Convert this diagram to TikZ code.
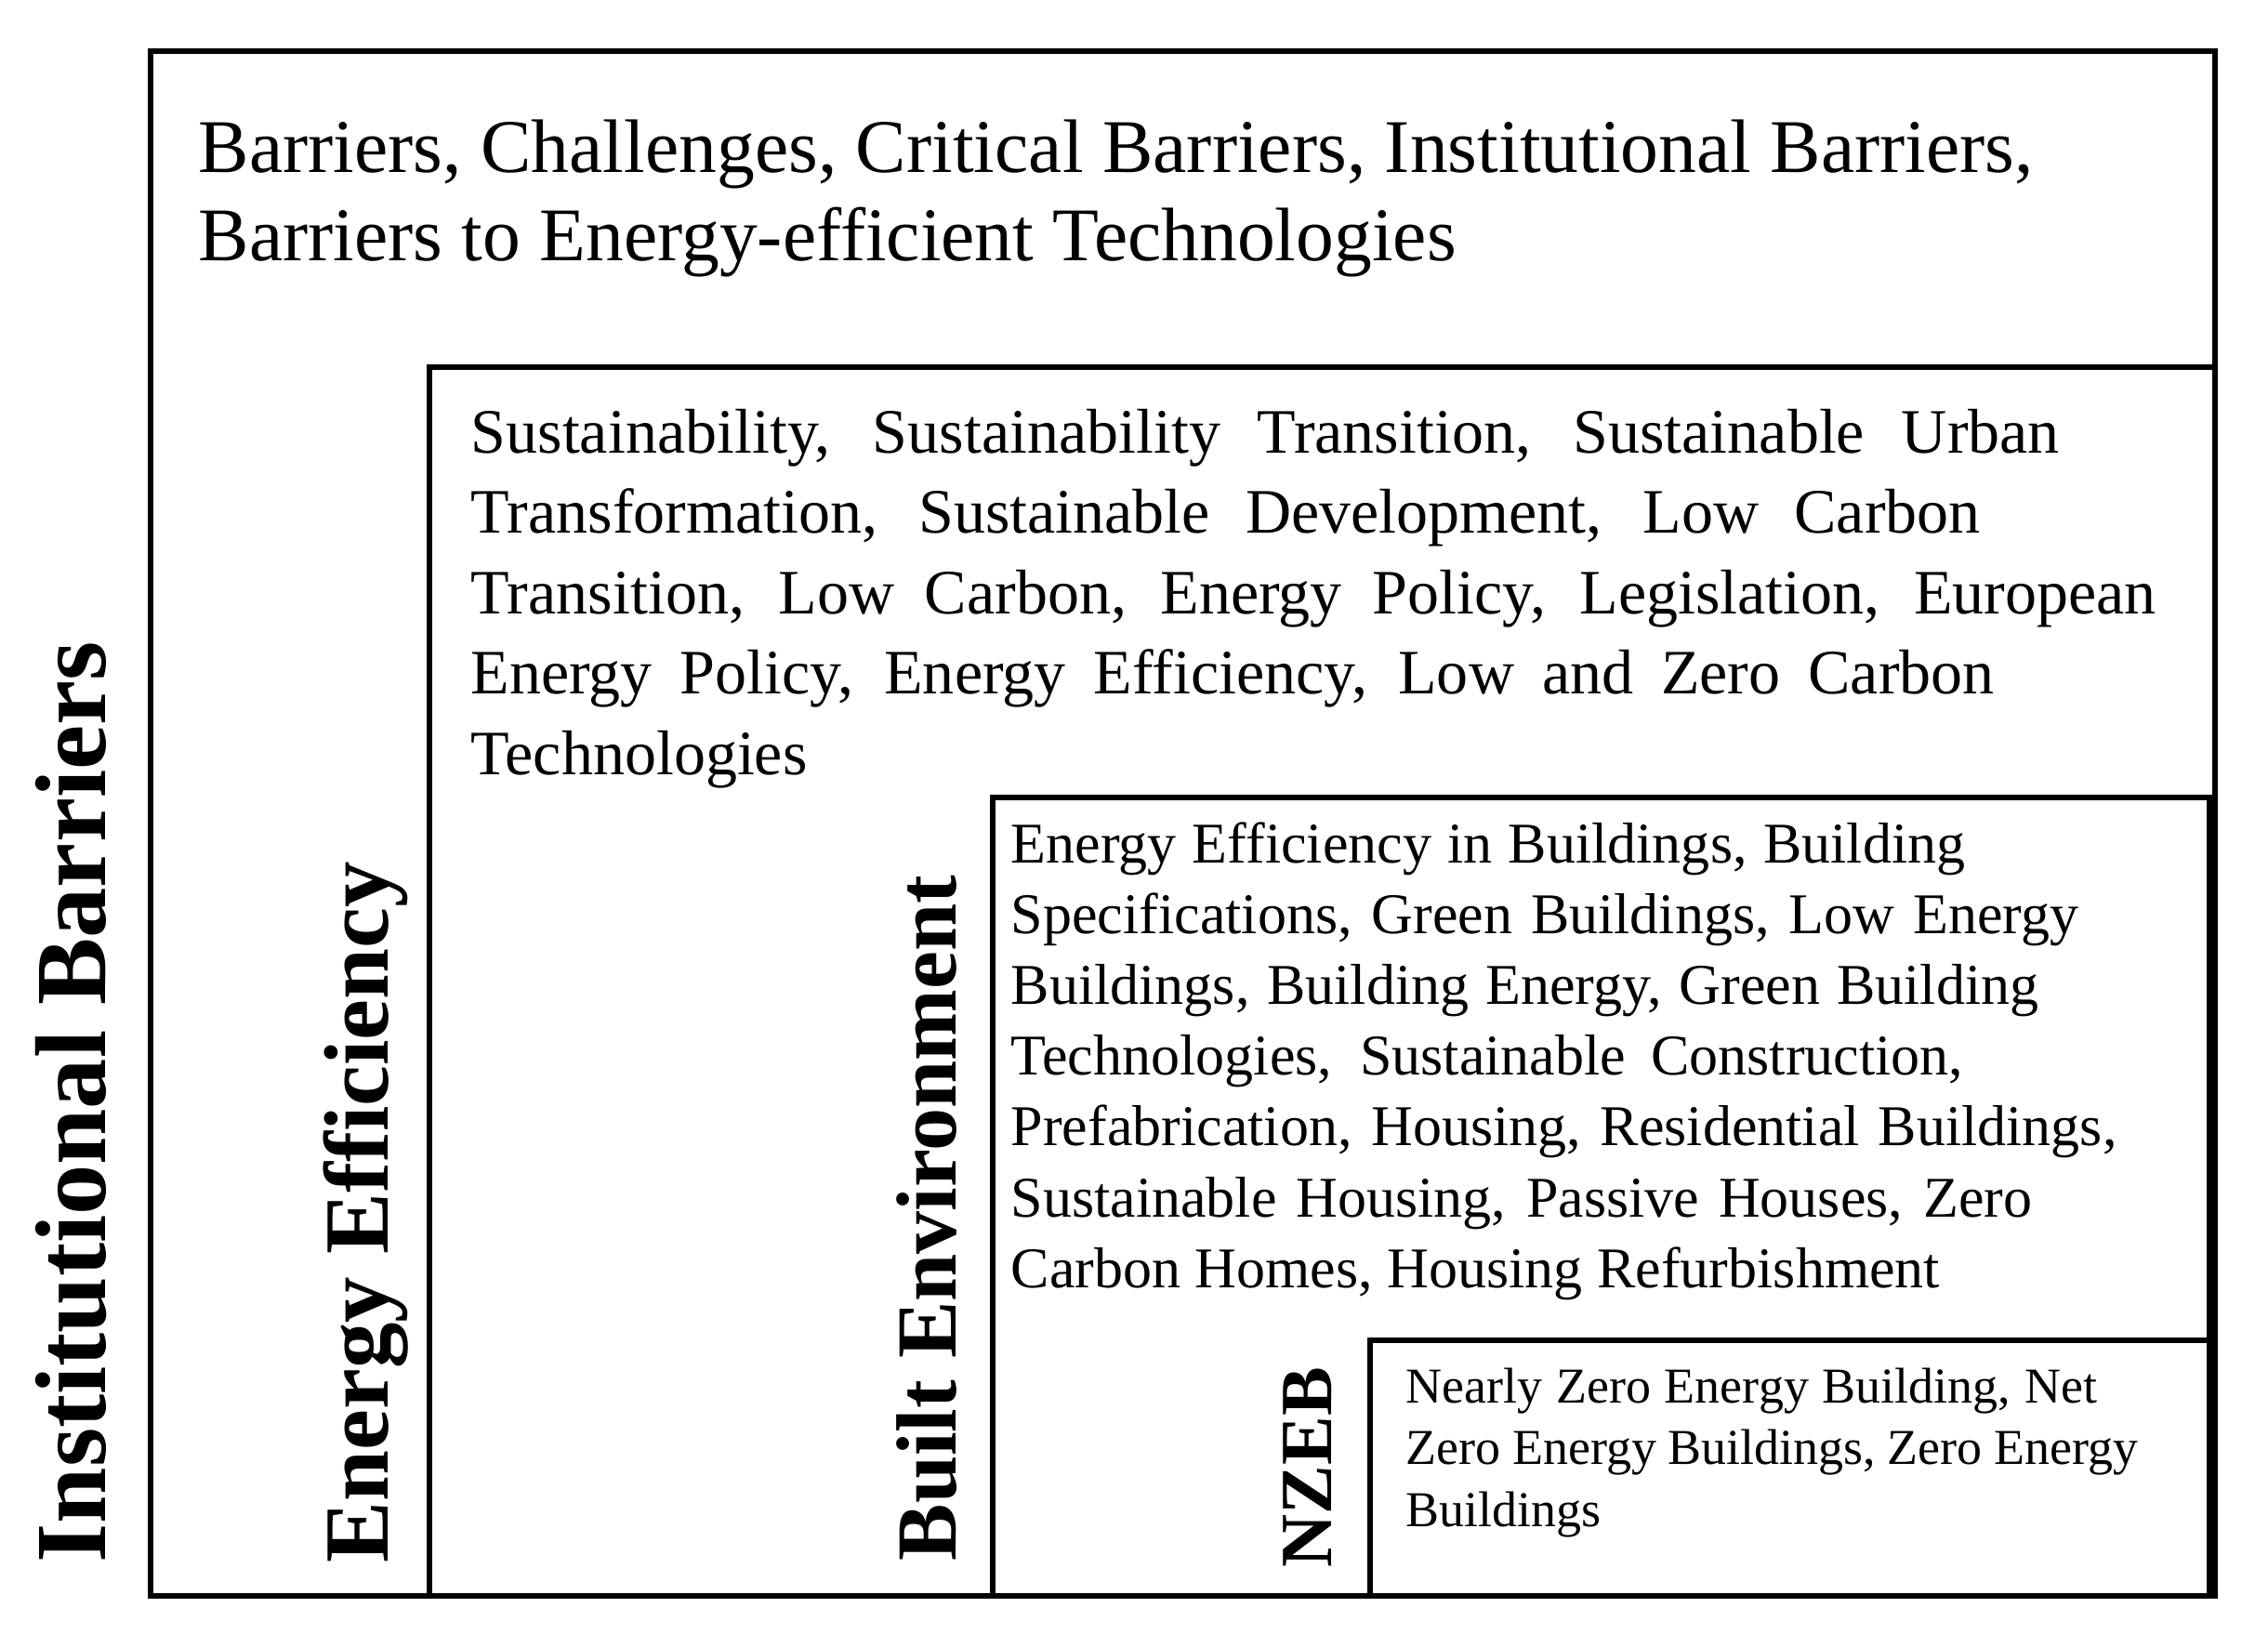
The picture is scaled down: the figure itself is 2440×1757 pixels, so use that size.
\documentclass[tikz,border=0pt]{standalone}
\usepackage{fontspec}
\setmainfont{Liberation Serif}
\newcommand\jline[2]{\hbox{\makebox[#1][s]{#2}}}
\newcommand\nline[1]{\hbox{#1}}
\newcommand\stacklines[2]{\vtop{\baselineskip=#1\lineskiplimit=-100pt\lineskip=0pt #2}}
\tikzset{
  frame/.style={draw=black, line width=0.06cm},
  vlabel/.style={rotate=90, anchor=base west, inner sep=0pt},
  txt/.style={anchor=base west, inner sep=0pt},
}
\begin{document}
\begin{tikzpicture}[x=0.01cm, y=-0.01cm]
\useasboundingbox (0,0) rectangle (2440,1757);
% nested frames
\draw[frame] (162,55) rectangle (2383,1717);
\draw[frame] (462,395) rectangle (2383,1717);
\draw[frame] (1068,858) rectangle (2377,1717);
\draw[frame] (1474,1442) rectangle (2383,1717);
% vertical labels
\node[vlabel, font=\bfseries\fontsize{30.84pt}{36pt}\selectfont] (inst) at (113,1682) {Institutional Barriers};
\node[vlabel, font=\bfseries\fontsize{28.08pt}{33pt}\selectfont] (ee) at (417,1682) {Energy Efficiency};
\node[vlabel, font=\bfseries\fontsize{26.18pt}{31pt}\selectfont] (be) at (1028,1680) {Built Environment};
\node[vlabel, font=\bfseries\fontsize{22.48pt}{27pt}\selectfont] (nz) at (1432,1687) {NZEB};
% text blocks
\node[txt, font=\fontsize{23.2pt}{27pt}\selectfont] (t1) at (213,185) {\stacklines{27.03pt}{%
\jline{19.73cm}{Barriers, Challenges, Critical Barriers, Institutional Barriers,}%
\nline{Barriers to Energy-efficient Technologies}}};
\node[txt, font=\fontsize{19.35pt}{24pt}\selectfont] (t2) at (506,487) {\stacklines{24.61pt}{%
\jline{17.08cm}{Sustainability, Sustainability Transition, Sustainable Urban}%
\jline{16.23cm}{Transformation, Sustainable Development, Low Carbon}%
\jline{18.12cm}{Transition, Low Carbon, Energy Policy, Legislation, European}%
\jline{16.38cm}{Energy Policy, Energy Efficiency, Low and Zero Carbon}%
\nline{Technologies}}};
\node[txt, font=\fontsize{17.64pt}{21pt}\selectfont] (t3) at (1087,928) {\stacklines{21.68pt}{%
\jline{10.26cm}{Energy Efficiency in Buildings, Building}%
\jline{11.48cm}{Specifications, Green Buildings, Low Energy}%
\jline{11.05cm}{Buildings, Building Energy, Green Building}%
\jline{10.24cm}{Technologies, Sustainable Construction,}%
\jline{11.89cm}{Prefabrication, Housing, Residential Buildings,}%
\jline{10.98cm}{Sustainable Housing, Passive Houses, Zero}%
\nline{Carbon Homes, Housing Refurbishment}}};
\node[txt, font=\fontsize{15.36pt}{19pt}\selectfont] (t4) at (1512,1509) {\stacklines{18.92pt}{%
\jline{7.43cm}{Nearly Zero Energy Building, Net}%
\jline{7.87cm}{Zero Energy Buildings, Zero Energy}%
\nline{Buildings}}};
\end{tikzpicture}
\end{document}
